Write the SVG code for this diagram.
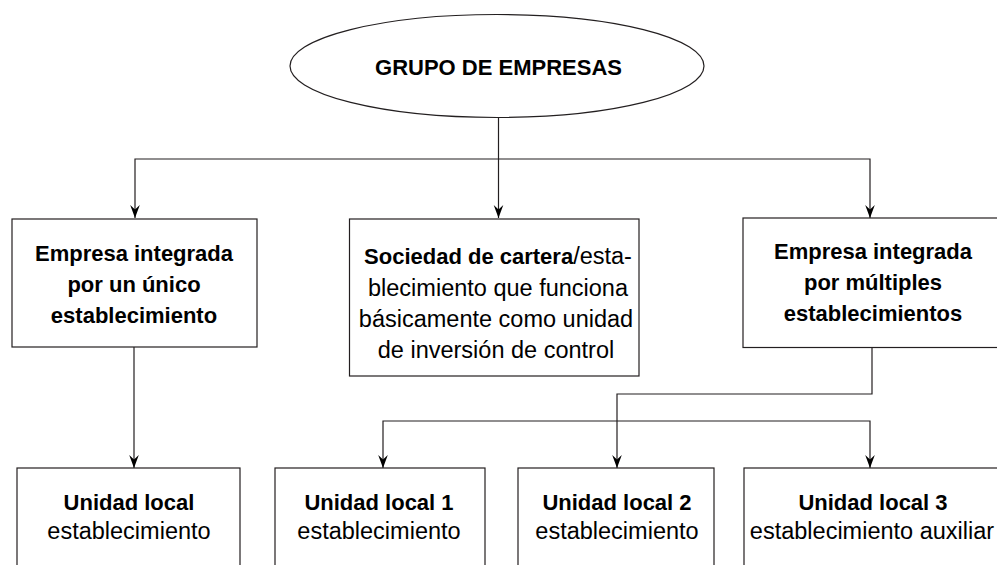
<svg xmlns="http://www.w3.org/2000/svg" width="997" height="565" viewBox="0 0 997 565">
<defs>
<style>
.box{fill:#fff;stroke:#231f20;stroke-width:1.2}
.ln{fill:none;stroke:#231f20;stroke-width:1.2}
text{font-family:"Liberation Sans",Arial,sans-serif;fill:#000;text-anchor:middle}
.b{font-weight:bold;font-size:22px}
.r{font-size:23.5px}
</style>
<marker id="ah" markerWidth="14" markerHeight="10" refX="0" refY="0" markerUnits="userSpaceOnUse" orient="auto-start-reverse" style="overflow:visible">
<path d="M0,0 L-13,-4.8 L-8.5,0 L-13,4.8 Z" fill="#000"/>
</marker>
</defs>
<rect width="997" height="565" fill="#fff"/>
<g id="connectors">
<path class="ln" d="M498.5,117 V159"/>
<path class="ln" d="M135,218 V159 H870 V218" marker-start="url(#ah)" marker-end="url(#ah)"/>
<path class="ln" d="M498.5,159 V218" marker-end="url(#ah)"/>
<path class="ln" d="M134,347 V468" marker-end="url(#ah)"/>
<path class="ln" d="M872,348 V394 H617 V468" marker-end="url(#ah)"/>
<path class="ln" d="M383,468 V421 H870 V468" marker-start="url(#ah)" marker-end="url(#ah)"/>
</g>
<g id="grupo">
<ellipse class="box" cx="497" cy="66" rx="207" ry="51.5"/>
<text class="b" x="498.5" y="75">GRUPO DE EMPRESAS</text>
</g>
<g id="empresa-unico">
<rect class="box" x="12" y="219" width="245" height="128"/>
<text class="b" x="134" y="261">Empresa integrada</text>
<text class="b" x="134" y="292">por un único</text>
<text class="b" x="134" y="323">establecimiento</text>
</g>
<g id="sociedad-cartera">
<rect class="box" x="349.5" y="219" width="289.5" height="157"/>
<text x="498" y="264"><tspan class="b">Sociedad de cartera</tspan><tspan class="r">/esta-</tspan></text>
<text class="r" x="498" y="296">blecimiento que funciona</text>
<text class="r" x="496" y="327">básicamente como unidad</text>
<text class="r" x="496" y="358">de inversión de control</text>
</g>
<g id="empresa-multiples">
<rect class="box" x="743" y="218" width="260" height="129.5"/>
<text class="b" x="873" y="259">Empresa integrada</text>
<text class="b" x="873" y="290">por múltiples</text>
<text class="b" x="873" y="321">establecimientos</text>
</g>
<g id="unidad-local">
<rect class="box" x="17" y="468" width="223" height="110"/>
<text class="b" x="129" y="510">Unidad local</text>
<text class="r" x="129" y="539">establecimiento</text>
</g>
<g id="unidad-local-1">
<rect class="box" x="275" y="468" width="210" height="110"/>
<text class="b" x="379" y="510">Unidad local 1</text>
<text class="r" x="379" y="539">establecimiento</text>
</g>
<g id="unidad-local-2">
<rect class="box" x="518" y="468" width="196" height="110"/>
<text class="b" x="617" y="510">Unidad local 2</text>
<text class="r" x="617" y="539">establecimiento</text>
</g>
<g id="unidad-local-3">
<rect class="box" x="744" y="468" width="260" height="110"/>
<text class="b" x="873" y="510">Unidad local 3</text>
<text class="r" x="872" y="539">establecimiento auxiliar</text>
</g>
</svg>
